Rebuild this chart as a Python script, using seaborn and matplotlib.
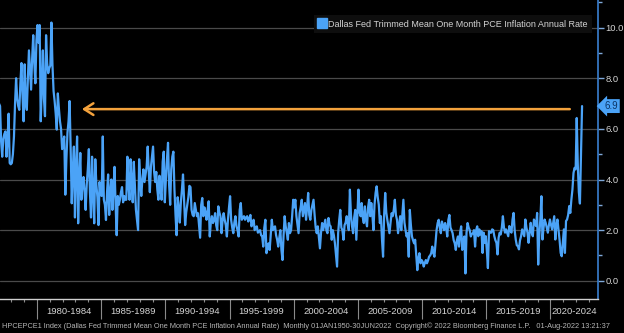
import numpy as np
import pandas as pd
import matplotlib
matplotlib.use("Agg")
import matplotlib.pyplot as plt
import matplotlib.transforms as mtransforms
from matplotlib.lines import Line2D
from matplotlib.ticker import MultipleLocator, FixedLocator
import seaborn as sns

# ---------------- data (monthly) ----------------
start_month = "1977-01"

pce_1977_1979 = [
    7.0, 6.9, 5.5, 4.9, 5.6, 5.8, 5.9, 4.9, 5.6, 6.6, 4.65, 4.6,
    4.65, 5.0, 5.7, 7.0, 8.0, 7.2, 6.9, 6.75, 7.8, 8.6, 7.3, 6.3,
    8.55, 7.0, 6.75, 8.0, 9.1, 8.3, 7.55, 8.8, 9.7, 8.6, 7.8, 9.5,
]
pce_1980_1984 = [
    10.1, 9.4, 10.1, 6.3, 7.6, 9.1, 7.2, 6.5, 9.7, 8.6, 8.2, 8.4,
    8.5, 10.2, 8.5, 7.5, 7.1, 6.6, 5.97, 7.4, 6.8, 6.3, 6.0, 5.2,
    5.5, 5.7, 3.4, 4.8, 5.84, 6.3, 7.1, 5.2, 3.06, 4.4, 5.3, 2.5,
    4.5, 5.7, 2.27, 4.0, 5.05, 3.2, 3.8, 4.1, 3.5, 2.8, 3.8, 4.4,
    5.2, 3.5, 2.5, 4.9, 3.5, 2.27, 4.8, 3.8, 3.3, 2.2, 3.9, 3.4,
]
pce_1985_1989 = [
    3.35, 5.7, 3.2, 3.0, 2.4, 3.5, 4.2, 2.6, 3.5, 4.0, 2.8, 3.6,
    4.5, 3.0, 1.8, 3.35, 3.0, 3.2, 3.5, 3.7, 3.1, 3.35, 3.2, 3.2,
    4.9, 3.8, 3.2, 4.8, 3.9, 3.1, 4.7, 3.8, 2.8, 2.4, 2.0, 4.8,
    4.0, 3.35, 4.0, 4.4, 3.9, 4.2, 4.5, 5.3, 4.3, 3.5, 4.5, 4.9,
    5.3, 4.3, 3.9, 4.3, 3.6, 3.2, 4.15, 3.6, 3.2, 4.7, 5.1, 3.1,
]
pce_1990_1994 = [
    4.0, 4.8, 5.45, 3.8, 3.0, 4.4, 4.9, 5.1, 3.6, 2.6, 1.8, 3.3,
    2.9, 2.3, 3.1, 3.6, 4.2, 3.2, 2.2, 2.7, 3.0, 3.3, 3.75, 3.7,
    2.8, 2.6, 2.55, 3.07, 2.8, 2.55, 2.67, 2.2, 1.7, 3.0, 3.27, 2.55,
    2.9, 2.7, 2.41, 2.8, 3.14, 1.75, 2.3, 2.55, 2.28, 2.4, 2.67, 2.2,
    2.0, 2.94, 2.7, 2.55, 1.88, 2.4, 2.67, 2.4, 2.2, 1.75, 2.4, 2.9,
]
pce_1995_1999 = [
    3.34, 2.4, 2.1, 1.88, 2.3, 2.55, 2.15, 2.0, 1.75, 2.8, 3.07, 2.41,
    2.5, 2.55, 2.41, 2.5, 2.55, 2.34, 2.45, 2.6, 2.15, 2.3, 2.41, 2.0,
    2.1, 2.15, 1.9, 1.95, 2.0, 1.8, 1.75, 1.35, 2.1, 2.41, 1.09, 1.3,
    1.48, 1.22, 1.8, 2.41, 2.0, 2.1, 2.15, 1.8, 1.62, 1.35, 1.7, 2.0,
    1.22, 0.82, 1.8, 2.55, 2.15, 1.9, 1.62, 2.28, 1.88, 2.0, 2.55, 3.2,
]
pce_2000_2004 = [
    2.9, 3.2, 2.55, 2.2, 1.88, 2.67, 2.9, 3.2, 2.55, 2.8, 3.07, 2.41,
    2.9, 3.47, 2.6, 2.41, 2.8, 3.0, 3.2, 2.6, 2.1, 1.88, 2.15, 1.7,
    1.28, 1.9, 2.28, 2.0, 2.2, 2.41, 2.0, 1.88, 2.48, 2.2, 2.15, 1.62,
    2.0, 1.8, 1.48, 1.0, 0.56, 1.88, 2.4, 2.8, 2.1, 2.0, 1.62, 2.2,
    2.3, 2.55, 2.2, 2.0, 3.6, 2.6, 2.15, 1.88, 2.5, 2.8, 1.62, 2.6,
]
pce_2005_2009 = [
    3.6, 2.7, 2.55, 3.07, 2.5, 2.28, 2.94, 2.4, 2.15, 2.9, 3.2, 2.55,
    3.07, 2.6, 2.0, 3.0, 3.47, 3.73, 3.3, 3.0, 2.28, 2.55, 1.62, 0.95,
    2.6, 3.47, 2.7, 2.4, 2.15, 1.88, 2.3, 2.67, 2.55, 2.8, 3.2, 2.6,
    2.41, 1.88, 2.2, 2.55, 2.0, 2.6, 3.2, 2.3, 2.0, 1.75, 1.88, 0.95,
    2.8, 2.2, 1.75, 1.6, 1.48, 1.62, 1.0, 0.42, 0.9, 1.09, 0.69, 0.82,
]
pce_2010_2014 = [
    0.75, 0.56, 0.7, 0.82, 0.69, 0.8, 0.95, 1.0, 1.09, 1.35, 1.1, 0.95,
    1.48, 2.0, 2.28, 2.41, 2.1, 1.88, 2.34, 2.2, 2.0, 2.28, 2.1, 1.75,
    2.4, 2.6, 2.1, 2.0, 1.88, 1.6, 1.48, 1.22, 1.6, 1.75, 1.35, 1.9,
    2.15, 1.22, 1.6, 1.75, 0.29, 1.9, 2.28, 2.1, 2.0, 1.75, 1.85, 1.88,
    2.0, 1.35, 2.0, 2.15, 1.76, 2.03, 1.83, 1.96, 1.1, 1.9, 1.5, 1.76,
]
pce_2015_2019 = [
    1.2, 0.5, 1.96, 1.9, 1.9, 2.03, 2.0, 1.76, 1.6, 1.5, 1.04, 1.7,
    1.9, 1.83, 2.1, 2.55, 2.1, 1.9, 2.03, 1.9, 1.76, 2.16, 2.0, 1.9,
    2.42, 2.68, 2.0, 1.63, 1.4, 1.37, 1.24, 1.6, 1.76, 2.03, 1.9, 1.76,
    2.42, 2.1, 1.9, 1.5, 1.9, 2.29, 1.9, 1.76, 2.42, 2.3, 2.16, 2.68,
    0.64, 1.8, 2.42, 3.34, 1.63, 2.1, 2.42, 2.29, 2.1, 1.9, 2.2, 2.42,
]
pce_2020_2022 = [
    2.2, 2.03, 2.3, 2.55, 1.63, 2.2, 2.42, 2.03, 1.6, 1.1, 0.97, 1.5,
    2.03, 1.1, 2.36, 2.42, 2.6, 2.95, 2.68, 3.2, 3.6, 4.26, 4.46, 4.4,
    6.43, 4.6, 3.5, 3.05, 4.9, 6.9,
]

period_labels = ["1980-1984", "1985-1989", "1990-1994", "1995-1999", "2000-2004",
                 "2005-2009", "2010-2014", "2015-2019", "2020-2024"]
period_starts = [1980, 1985, 1990, 1995, 2000, 2005, 2010, 2015, 2020]
y_ticks = [0.0, 2.0, 4.0, 6.0, 8.0, 10.0]

series_name = "Dallas Fed Trimmed Mean One Month PCE Inflation Annual Rate"
footer = ("HPCEPCE1 Index (Dallas Fed Trimmed Mean One Month PCE Inflation Annual Rate)  "
          "Monthly 01JAN1950-30JUN2022  Copyright\u00a9 2022 Bloomberg Finance L.P.   "
          "01-Aug-2022 13:21:37")

values = (pce_1977_1979 + pce_1980_1984 + pce_1985_1989 + pce_1990_1994 +
          pce_1995_1999 + pce_2000_2004 + pce_2005_2009 + pce_2010_2014 +
          pce_2015_2019 + pce_2020_2022)
dates = pd.date_range(start_month, periods=len(values), freq="MS")
df = pd.DataFrame({
    "t": dates.year + (dates.month - 0.5) / 12.0,
    "v": values,
})

# ---------------- style ----------------
sns.set_theme(style="dark")
plt.rcParams["font.family"] = ["Liberation Sans", "DejaVu Sans"]

BG = "#000000"
LINE = "#4ba3f7"
GRID = "#4a4a4a"
TXT = "#d4d4d4"
ORANGE = "#f4a23c"

X_MIN, X_MAX = 1977.12, 2023.7
Y_MIN, Y_MAX = -0.70, 11.09

fig = plt.figure(figsize=(6.24, 3.33), dpi=100, facecolor=BG)
ax = fig.add_axes([0.0, 1 - 298.5 / 333, 598 / 624, 298.5 / 333])
ax.set_facecolor(BG)

sns.lineplot(data=df, x="t", y="v", ax=ax, color=LINE, linewidth=1.6, legend=False)

ax.set_xlim(X_MIN, X_MAX)
ax.set_ylim(Y_MIN, Y_MAX)
ax.set_xlabel("")
ax.set_ylabel("")

# grid
ax.grid(False)
ax.yaxis.grid(True, color=GRID, linewidth=0.9)
ax.set_axisbelow(True)

# spines
for s in ["left", "top"]:
    ax.spines[s].set_visible(False)
ax.spines["right"].set_color("#3a80d0")
ax.spines["right"].set_linewidth(1.2)
ax.spines["bottom"].set_color("#cfcfcf")
ax.spines["bottom"].set_linewidth(1.0)

# y axis on right
ax.yaxis.tick_right()
ax.set_yticks(y_ticks)
ax.set_yticklabels([f"{v:.1f}" for v in y_ticks])
ax.yaxis.set_minor_locator(MultipleLocator(1.0))
ax.tick_params(axis="y", which="major", colors="#7fa8d8", length=4, width=1,
               labelcolor=TXT, labelsize=6.8, pad=1.5, right=True, left=False)
ax.tick_params(axis="y", which="minor", colors="#7fa8d8", length=3, width=1,
               right=True, left=False)

# x axis: separators + yearly minor ticks
ax.xaxis.set_major_locator(FixedLocator(period_starts))
ax.xaxis.set_minor_locator(MultipleLocator(1.0))
ax.set_xticklabels([])
ax.tick_params(axis="x", which="major", direction="out", length=14.5, width=0.8,
               colors="#8a8a8a", bottom=True)
ax.tick_params(axis="x", which="minor", direction="out", length=2.5, width=0.8,
               colors="#8a8a8a", bottom=True)

xtrans = mtransforms.blended_transform_factory(ax.transData, ax.transAxes)
for lab, s in zip(period_labels, period_starts):
    lo, hi = max(s, X_MIN), min(s + 5, X_MAX)
    ax.text((lo + hi) / 2, -0.042, lab, transform=xtrans, ha="center", va="center",
            color=TXT, fontsize=6.8, clip_on=False)

# legend
handle = Line2D([0], [0], marker="s", linestyle="", color=LINE, markersize=6.5)
leg = ax.legend([handle], [series_name], loc="upper right",
                bbox_to_anchor=(592 / 598, 1 - 15 / 298.5), frameon=True,
                facecolor="#0e0e0e", edgecolor="none", framealpha=1.0,
                fontsize=6.5, labelcolor=TXT, handletextpad=0.3, handlelength=0.8,
                borderpad=0.5, borderaxespad=0.0, fancybox=False)

# orange arrow back to the level of the latest print
arrow_level = 6.78
ax.annotate("", xy=(1983.5, arrow_level), xytext=(2021.5, arrow_level),
            arrowprops=dict(arrowstyle="->,head_length=0.55,head_width=0.35",
                            color=ORANGE, lw=1.8, shrinkA=0, shrinkB=0))

# last value tag on the right axis
last = df["v"].iloc[-1]
ytrans = mtransforms.blended_transform_factory(ax.transAxes, ax.transData)
tag_trans = mtransforms.offset_copy(ytrans, fig=fig, x=13, y=0, units="dots")
ax.text(1.0, last, f"{last:.1f}", transform=tag_trans, ha="center", va="center",
        color="#0c3566", fontsize=7, clip_on=False,
        bbox=dict(boxstyle="larrow,pad=0.2", fc=LINE, ec="none"))

# footer
fig.text(0.003, 1 - 326 / 333, footer, ha="left", va="center", color="#b4b4b4",
         fontsize=5.3)

fig.savefig("out.png", dpi=100, facecolor=BG)
